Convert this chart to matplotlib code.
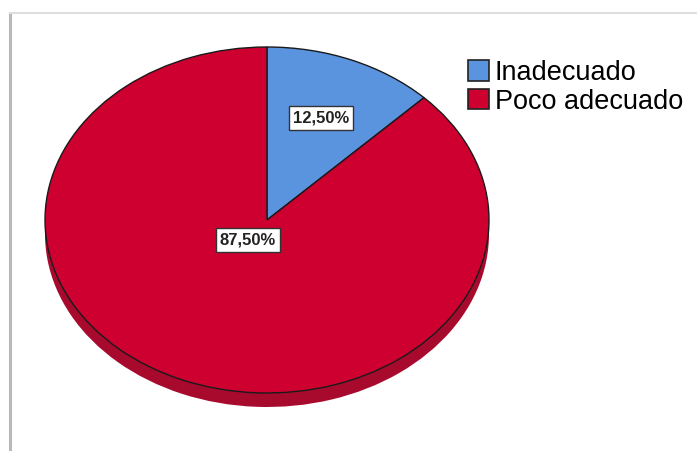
import matplotlib
matplotlib.use("Agg")
import matplotlib.pyplot as plt
from matplotlib.lines import Line2D
from matplotlib.patches import Patch

categorias = ["Inadecuado", "Poco adecuado"]
porcentajes = [12.5, 87.5]
etiquetas = ["12,50%", "87,50%"]
colores = ["#5B94DE", "#CD0030"]
sombra = "#A80A2E"

W, H = 697, 451
fig = plt.figure(figsize=(W / 100, H / 100), dpi=100)

# marco de la captura (borde superior e izquierdo)
fig.add_artist(Line2D([10 / W, 10 / W], [0, 1 - 13 / H], color="#b8b8b8", lw=2.2))
fig.add_artist(Line2D([10 / W, 1], [1 - 13 / H, 1 - 13 / H], color="#dedede", lw=1.5))

# ejes: centro del pastel en (267, 220) px, radios 222 x 173 px
cx, cy, rx, ry = 267, 220, 222, 173
ax = fig.add_axes([(cx - rx) / W, 1 - (cy + ry) / H, 2 * rx / W, 2 * ry / H])
ax.set_axis_off()

# cara lateral (sombra) desplazada hacia abajo
ax.pie(porcentajes, colors=[sombra, sombra], startangle=90, counterclock=False,
       center=(0, -14 / ry), wedgeprops=dict(linewidth=0))
wedges, _ = ax.pie(porcentajes, colors=colores, startangle=90, counterclock=False,
                   wedgeprops=dict(edgecolor="#1a1a1a", linewidth=1.0))
ax.set_aspect("auto")
ax.set_xlim(-1, 1)
ax.set_ylim(-1, 1)

caja = dict(boxstyle="square,pad=0.25", facecolor="white", edgecolor="#333333", linewidth=1)
ax.text((321 - cx) / rx, (cy - 118) / ry, etiquetas[0], ha="center", va="center",
        fontsize=12, fontweight="bold", family="Liberation Sans", color="#222222", bbox=caja)
ax.text((248 - cx) / rx, (cy - 240) / ry, etiquetas[1], ha="center", va="center",
        fontsize=12, fontweight="bold", family="Liberation Sans", color="#222222", bbox=caja)

handles = [Patch(facecolor=c, edgecolor="#222222", linewidth=1.2) for c in colores]
fig.legend(handles, categorias, loc="upper left", bbox_to_anchor=(468 / W, 1 - 60 / H),
           frameon=False, prop=dict(family="Liberation Sans", size=19.5),
           handlelength=0.78, handleheight=0.78, handletextpad=0.2,
           labelspacing=0.1, borderpad=0, borderaxespad=0)

fig.savefig("out.png", dpi=100, facecolor="white")
